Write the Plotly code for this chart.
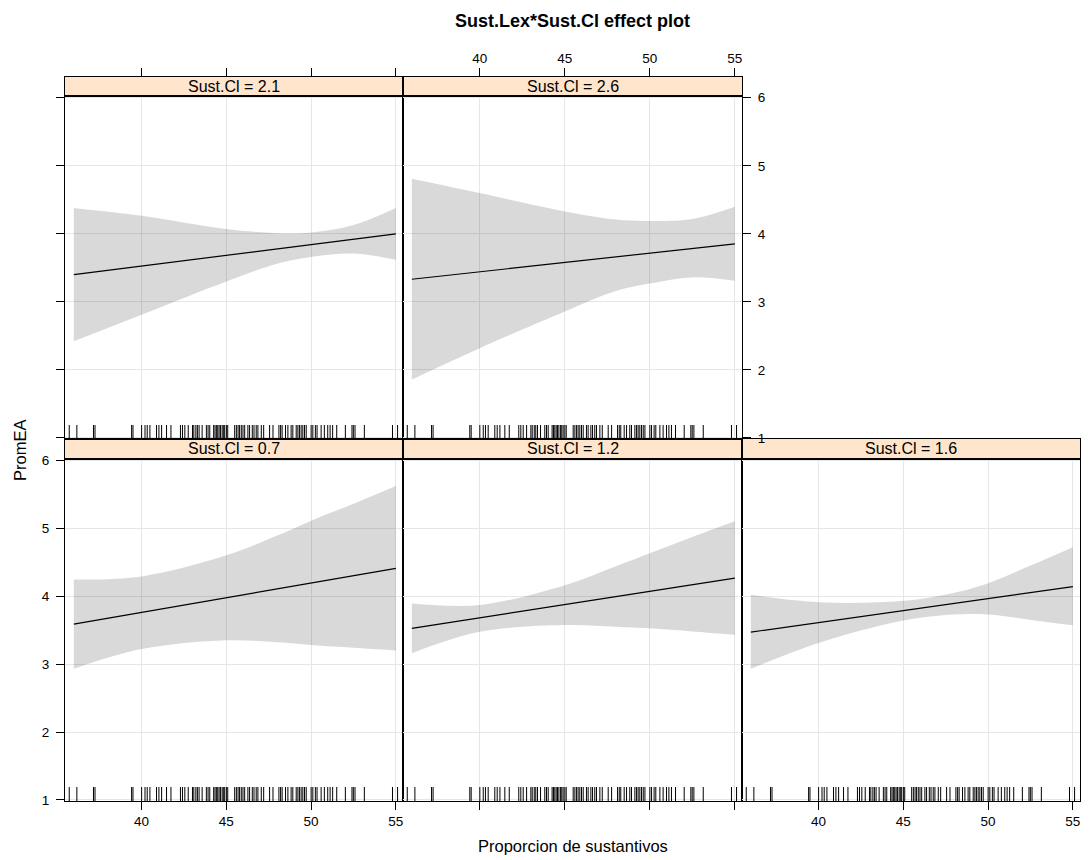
import plotly.graph_objects as go

# The page body keeps its default 8px margin, so the figure is drawn 8px in
# from the window's top-left corner: size and place everything accordingly.
WIN_W, WIN_H = 1089, 860
OFF = 8
W, H = WIN_W - OFF, WIN_H - OFF

# ---------------- data ----------------
x_band = [36, 40, 45, 48, 50, 52.5, 55]
x_fit = [36, 55]

strip_labels = ["Sust.Cl = 2.1", "Sust.Cl = 2.6", "Sust.Cl = 0.7", "Sust.Cl = 1.2", "Sust.Cl = 1.6"]

fit_21 = [3.40, 4.00]
upper_21 = [4.38, 4.265, 4.07, 4.01, 4.02, 4.13, 4.38]
lower_21 = [2.42, 2.81, 3.30, 3.56, 3.66, 3.71, 3.62]

fit_26 = [3.333, 3.853]
upper_26 = [4.81, 4.60, 4.33, 4.21, 4.19, 4.22, 4.40]
lower_26 = [1.86, 2.32, 2.86, 3.16, 3.27, 3.36, 3.31]

fit_07 = [3.588, 4.407]
upper_07 = [4.245, 4.29, 4.60, 4.89, 5.11, 5.36, 5.62]
lower_07 = [2.93, 3.22, 3.35, 3.32, 3.28, 3.24, 3.20]

fit_12 = [3.525, 4.265]
upper_12 = [3.89, 3.87, 4.16, 4.44, 4.63, 4.87, 5.10]
lower_12 = [3.16, 3.475, 3.574, 3.55, 3.525, 3.48, 3.43]

fit_16 = [3.47, 4.14]
upper_16 = [4.02, 3.91, 3.93, 4.05, 4.19, 4.45, 4.72]
lower_16 = [2.93, 3.31, 3.64, 3.73, 3.73, 3.65, 3.57]

rug_x = [35.73, 36.18, 37.16, 37.25, 39.41, 39.49, 40.0, 40.2, 40.33, 40.49, 40.88, 41.02,
         41.18, 41.47, 41.73, 42.29, 42.41, 42.55, 42.75, 43.0, 43.08, 43.2, 43.29, 43.39,
         43.57, 43.82, 43.92, 44.02, 44.25, 44.33, 44.41, 44.49, 44.57, 44.65, 44.75, 44.82,
         44.9, 45.0, 45.08, 45.49, 45.59, 45.69, 45.78, 45.88, 45.98, 46.08, 46.27, 46.37,
         46.53, 46.63, 46.76, 46.86, 47.06, 47.2, 47.55, 47.75, 48.1, 48.2, 48.29, 48.49,
         48.63, 48.82, 48.92, 49.12, 49.22, 49.31, 49.41, 49.51, 49.61, 49.71, 50.0, 50.1,
         50.25, 50.35, 50.59, 50.78, 50.98, 51.12, 51.27, 51.51, 52.02, 52.41, 52.49, 52.59,
         53.14, 54.8, 55.1]

x_ticks = [40, 45, 50, 55]
y_ticks = [1, 2, 3, 4, 5, 6]

# ---------------- layout geometry (window pixels) ----------------
X_RANGE = [35.48, 55.42]
Y_RANGE = [0.985, 6.02]
cols_px = [(65, 403), (403, 742), (742, 1080)]
rows_px = {  # (strip_top, strip_bottom, panel_bottom)
    0: (77, 96.4, 439),
    1: (438.5, 458.8, 801),
}

FONT = "Liberation Sans, Arial, Helvetica, sans-serif"
GRID = "#e6e6e6"
STRIP = "#ffe5cc"


def fx(px):
    return (px - OFF) / W


def fy(py):
    return 1 - (py - OFF) / H


# panel: (label, col, row, fit, upper, lower, opts)
panels = [
    (strip_labels[0], 0, 0, fit_21, upper_21, lower_21,
     dict(xb_ticks=False, xb_lab=False, y_side="left", y_ticks=True, y_lab=False, top_ticks=True, top_lab=False)),
    (strip_labels[1], 1, 0, fit_26, upper_26, lower_26,
     dict(xb_ticks=False, xb_lab=False, y_side="right", y_ticks=True, y_lab=True, top_ticks=True, top_lab=True)),
    (strip_labels[2], 0, 1, fit_07, upper_07, lower_07,
     dict(xb_ticks=True, xb_lab=True, y_side="left", y_ticks=True, y_lab=True, top_ticks=False, top_lab=False)),
    (strip_labels[3], 1, 1, fit_12, upper_12, lower_12,
     dict(xb_ticks=True, xb_lab=False, y_side="left", y_ticks=False, y_lab=False, top_ticks=False, top_lab=False)),
    (strip_labels[4], 2, 1, fit_16, upper_16, lower_16,
     dict(xb_ticks=True, xb_lab=True, y_side="right", y_ticks=True, y_lab=False, top_ticks=False, top_lab=False)),
]

fig = go.Figure()
layout = {}
shapes = []
annotations = []
tickfont = dict(family=FONT, size=13.5, color="black")

n = len(panels)
for i, (label, c, r, fit, upper, lower, o) in enumerate(panels):
    pi = i + 1          # panel axis index
    si = i + 1 + n      # strip axis index
    px_x = f"x{pi}" if pi > 1 else "x"
    px_y = f"y{pi}" if pi > 1 else "y"
    sx = f"x{si}"
    sy = f"y{si}"
    x0, x1 = cols_px[c]
    st, sb, pb = rows_px[r]

    # --- panel axes ---
    layout[f"xaxis{pi}"] = dict(
        domain=[fx(x0), fx(x1)], range=X_RANGE, anchor=px_y, automargin=False,
        tickvals=x_ticks, ticks="outside" if o["xb_ticks"] else "", ticklen=8,
        tickcolor="black", showticklabels=o["xb_lab"], tickfont=tickfont,
        showgrid=True, gridcolor=GRID, gridwidth=1, zeroline=False,
        showline=True, mirror=True, linecolor="black", linewidth=1, fixedrange=True,
    )
    layout[f"yaxis{pi}"] = dict(
        domain=[fy(pb), fy(sb)], range=Y_RANGE, anchor=px_x, side=o["y_side"], automargin=False,
        tickvals=y_ticks, ticks="outside" if o["y_ticks"] else "", ticklen=8,
        tickcolor="black", showticklabels=o["y_lab"], tickfont=tickfont,
        ticklabelstandoff=4,
        showgrid=True, gridcolor=GRID, gridwidth=1, zeroline=False,
        showline=True, mirror=True, linecolor="black", linewidth=1, fixedrange=True,
    )

    # --- strip axes ---
    layout[f"xaxis{si}"] = dict(
        domain=[fx(x0), fx(x1)], range=X_RANGE, anchor=sy, side="top", automargin=False,
        tickvals=x_ticks, ticks="outside" if o["top_ticks"] else "", ticklen=8,
        tickcolor="black", showticklabels=o["top_lab"], tickfont=tickfont,
        showgrid=False, zeroline=False,
        showline=True, mirror=True, linecolor="black", linewidth=1, fixedrange=True,
    )
    layout[f"yaxis{si}"] = dict(
        domain=[fy(sb), fy(st)], range=[0, 1], anchor=sx, automargin=False,
        showticklabels=False, ticks="", showgrid=False, zeroline=False,
        showline=True, mirror=True, linecolor="black", linewidth=1, fixedrange=True,
    )
    fig.add_trace(go.Scatter(x=[], y=[], xaxis=sx, yaxis=sy, showlegend=False, hoverinfo="skip"))
    shapes.append(dict(type="rect", xref=f"{sx} domain", yref=f"{sy} domain",
                       x0=0, x1=1, y0=0, y1=1, fillcolor=STRIP, line=dict(width=0), layer="below"))
    annotations.append(dict(text=label, xref=f"{sx} domain", yref=f"{sy} domain",
                            x=0.5, y=0.5, showarrow=False,
                            font=dict(family=FONT, size=16, color="black")))

    # --- confidence band ---
    fig.add_trace(go.Scatter(x=x_band, y=lower, xaxis=px_x, yaxis=px_y, mode="lines",
                             line=dict(width=0, shape="spline", smoothing=1.0),
                             showlegend=False, hoverinfo="skip"))
    fig.add_trace(go.Scatter(x=x_band, y=upper, xaxis=px_x, yaxis=px_y, mode="lines",
                             line=dict(width=0, shape="spline", smoothing=1.0),
                             fill="tonexty", fillcolor="rgba(0,0,0,0.15)",
                             showlegend=False, hoverinfo="skip"))
    # --- fitted line ---
    fig.add_trace(go.Scatter(x=x_fit, y=fit, xaxis=px_x, yaxis=px_y, mode="lines",
                             line=dict(color="black", width=1.2),
                             showlegend=False, hoverinfo="skip"))
    # --- rug ---
    fig.add_trace(go.Scatter(x=rug_x, y=[Y_RANGE[0]] * len(rug_x), xaxis=px_x, yaxis=px_y,
                             mode="markers", cliponaxis=True,
                             marker=dict(symbol="line-ns", size=20,
                                         line=dict(color="black", width=1)),
                             showlegend=False, hoverinfo="skip"))

annotations.append(dict(text="<b>Sust.Lex*Sust.Cl effect plot</b>", xref="paper", yref="paper",
                        x=fx(572.5), y=fy(21), showarrow=False, xanchor="center", yanchor="middle",
                        font=dict(family=FONT, size=18, color="black")))
annotations.append(dict(text="Proporcion de sustantivos", xref="paper", yref="paper",
                        x=fx(572.5), y=fy(846), showarrow=False, xanchor="center", yanchor="middle",
                        font=dict(family=FONT, size=16.5, color="black")))
annotations.append(dict(text="PromEA", xref="paper", yref="paper", textangle=-90,
                        x=fx(20), y=fy(451), showarrow=False, xanchor="center", yanchor="middle",
                        font=dict(family=FONT, size=16.5, color="black")))

fig.update_layout(
    width=W, height=H,
    margin=dict(l=0, r=0, t=0, b=0, autoexpand=False),
    paper_bgcolor="white", plot_bgcolor="rgba(0,0,0,0)",
    showlegend=False,
    shapes=shapes, annotations=annotations,
    font=dict(family=FONT, color="black"),
    **layout,
)

fig.write_html("out.html")
